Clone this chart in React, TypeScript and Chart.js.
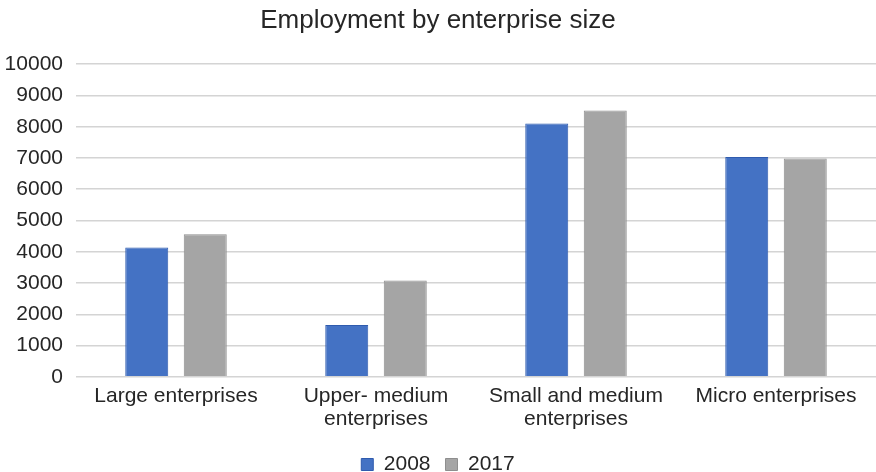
import React, { useEffect, useRef } from "react";
import { Chart, registerables } from "chart.js";

Chart.register(...registerables);

const categories: (string | string[])[] = [
  "Large enterprises",
  ["Upper- medium", "enterprises"],
  ["Small and medium", "enterprises"],
  "Micro enterprises",
];
const series2008 = [4140, 1660, 8100, 7030];
const series2017 = [4560, 3080, 8520, 6980];
const yTicks = [0, 1000, 2000, 3000, 4000, 5000, 6000, 7000, 8000, 9000, 10000];

const FONT = "'Liberation Sans', Arial, Helvetica, sans-serif";

export default function App() {
  const ref = useRef<HTMLCanvasElement | null>(null);

  useEffect(() => {
    document.body.style.margin = "0";
    const canvas = ref.current;
    if (!canvas) return;
    const chart = new Chart(canvas, {
      type: "bar",
      data: {
        labels: categories,
        datasets: [
          {
            label: "2008",
            data: series2008,
            backgroundColor: "#4472C4",
            borderColor: "#2F5BAE",
            borderWidth: 1,
            categoryPercentage: 0.585,
            barPercentage: 0.735,
          },
          {
            label: "2017",
            data: series2017,
            backgroundColor: "#A5A5A5",
            borderColor: "#8E8E8E",
            borderWidth: 1,
            categoryPercentage: 0.585,
            barPercentage: 0.735,
          },
        ],
      },
      options: {
        responsive: false,
        animation: false,
        layout: { padding: { left: 0, right: 0, top: 0, bottom: -13 } },
        plugins: {
          title: {
            display: true,
            text: "Employment by enterprise size",
            color: "#262626",
            font: { family: FONT, size: 26, weight: "normal", lineHeight: 1.2 },
            padding: { top: 5, bottom: 28 },
          },
          legend: {
            display: true,
            position: "bottom",
            labels: {
              boxWidth: 12,
              boxHeight: 12,
              padding: 15,
              color: "#262626",
              font: { family: FONT, size: 21 },
            },
          },
          tooltip: { enabled: false },
        },
        scales: {
          x: {
            grid: { display: false, drawTicks: false },
            border: { display: false },
            ticks: {
              color: "#262626",
              font: { family: FONT, size: 21, lineHeight: 1.1 },
              padding: 8,
              maxRotation: 0,
              minRotation: 0,
              autoSkip: false,
            },
          },
          y: {
            min: 0,
            max: 10000,
            afterFit: (s: any) => {
              s.width = 76;
            },
            afterBuildTicks: (s: any) => {
              s.ticks = yTicks.map((v) => ({ value: v }));
            },
            grid: { color: "#D4D4D4", lineWidth: 1.5, drawTicks: false },
            border: { display: false },
            ticks: {
              color: "#262626",
              font: { family: FONT, size: 21 },
              padding: 13,
              callback: (v: any) => String(v),
            },
          },
        },
      },
    });
    return () => chart.destroy();
  }, []);

  return (
    <div style={{ width: 876, height: 472, background: "#fff" }}>
      <canvas ref={ref} width={876} height={472} />
    </div>
  );
}
